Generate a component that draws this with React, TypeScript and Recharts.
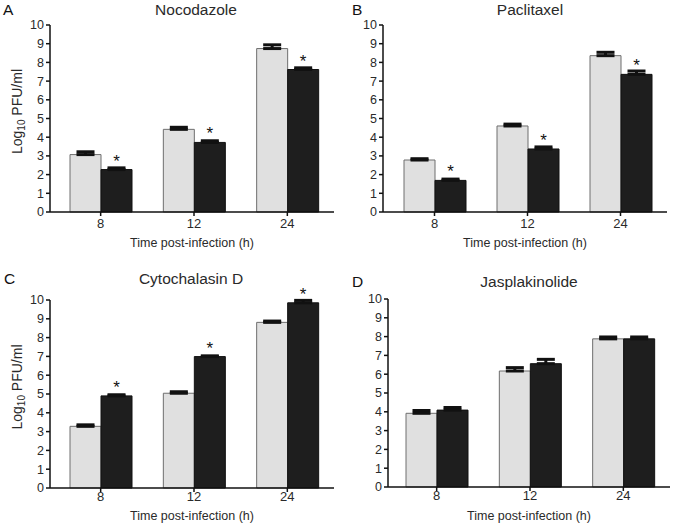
import { BarChart, Bar, XAxis, YAxis, ErrorBar, LabelList } from "recharts";

const categories = ["8", "12", "24"];
const yTicks = [0, 1, 2, 3, 4, 5, 6, 7, 8, 9, 10];

// A - Nocodazole
const nocControl = [3.07, 4.42, 8.74];
const nocControlErr = [0.15, 0.11, 0.2];
const nocTreated = [2.27, 3.72, 7.62];
const nocTreatedErr = [0.09, 0.09, 0.09];
const nocSig = ["*", "*", "*"];

// B - Paclitaxel
const pacControl = [2.78, 4.6, 8.36];
const pacControlErr = [0.07, 0.1, 0.18];
const pacTreated = [1.69, 3.37, 7.36];
const pacTreatedErr = [0.07, 0.11, 0.18];
const pacSig = ["*", "*", "*"];

// C - Cytochalasin D
const cytControl = [3.28, 5.04, 8.81];
const cytControlErr = [0.08, 0.08, 0.07];
const cytTreated = [4.9, 6.99, 9.85];
const cytTreatedErr = [0.06, 0.04, 0.13];
const cytSig = ["*", "*", "*"];

// D - Jasplakinolide
const jasControl = [3.92, 6.17, 7.88];
const jasControlErr = [0.15, 0.18, 0.1];
const jasTreated = [4.09, 6.56, 7.88];
const jasTreatedErr = [0.14, 0.23, 0.1];
const jasSig = ["", "", ""];

const FONT = "'Liberation Sans', Arial, sans-serif";
const TEXT = "#2a2a2a";

function buildRows(ctl: number[], ctlErr: number[], trt: number[], trtErr: number[], sig: string[]) {
  return categories.map((c, i) => ({
    time: c,
    control: ctl[i],
    controlErr: [0, ctlErr[i]],
    treated: trt[i],
    treatedErr: [0, trtErr[i]],
    sig: sig[i],
  }));
}

const renderStar = (props: any) => {
  const { x, y, width, value } = props;
  if (!value) return null;
  return (
    <text x={x + width / 2} y={y - 3} textAnchor="middle" fontSize={17} fill="#111" fontFamily={FONT}>
      {value}
    </text>
  );
};

const renderYLabel = (props: any) => {
  const vb = props.viewBox;
  const cx = vb.x + 7;
  const cy = vb.y + vb.height / 2 - 7;
  return (
    <text
      x={cx}
      y={cy}
      transform={`rotate(-90, ${cx}, ${cy})`}
      textAnchor="middle"
      dominantBaseline="central"
      fontSize={14}
      fill={TEXT}
      fontFamily={FONT}
    >
      Log
      <tspan fontSize={10} dy={4}>10</tspan>
      <tspan dy={-4}> PFU/ml</tspan>
    </text>
  );
};

interface PanelProps {
  letter: string;
  title: string;
  rows: any[];
  left: number;
  top: number;
  height: number;
  marginLeft: number;
  marginRight: number;
  marginTop: number;
  padLeft: number;
  xAxisHeight: number;
  tickMargin: number;
  labelOffset: number;
  titleX: number;
  titleTop: number;
  letterX: number;
  yLabel?: boolean;
}

function Panel(p: PanelProps) {
  return (
    <div style={{ position: "absolute", left: p.left, top: p.top, width: 338, height: p.height }}>
      <div
        style={{
          position: "absolute",
          left: p.letterX,
          top: p.titleTop,
          fontSize: 15.5,
          lineHeight: "15.5px",
          fontFamily: FONT,
          color: "#111",
        }}
      >
        {p.letter}
      </div>
      <div
        style={{
          position: "absolute",
          left: p.titleX - 100,
          width: 200,
          top: p.titleTop,
          textAlign: "center",
          fontSize: 15.5,
          lineHeight: "15.5px",
          fontFamily: FONT,
          color: TEXT,
        }}
      >
        {p.title}
      </div>
      <BarChart
        width={338}
        height={p.height}
        data={p.rows}
        barGap={0}
        barSize={31}
        margin={{ top: p.marginTop, right: p.marginRight, left: p.marginLeft, bottom: 2 }}
        style={{ position: "absolute", left: 0, top: 0 }}
      >
        <XAxis
          dataKey="time"
          padding={{ left: p.padLeft, right: 0 }}
          height={p.xAxisHeight}
          axisLine={{ stroke: "#111", strokeWidth: 1.5 }}
          tickLine={{ stroke: "#111", strokeWidth: 1.5 }}
          tickSize={4}
          tickMargin={p.tickMargin}
          tick={{ fontSize: 13, fill: TEXT, fontFamily: FONT }}
          label={{
            value: "Time post-infection (h)",
            position: "insideBottom",
            offset: p.labelOffset,
            fontSize: 12.5,
            fill: TEXT,
            fontFamily: FONT,
          }}
        />
        <YAxis
          domain={[0, 10]}
          ticks={yTicks}
          interval={0}
          width={40}
          axisLine={{ stroke: "#111", strokeWidth: 1.5 }}
          tickLine={{ stroke: "#111", strokeWidth: 1.5 }}
          tickSize={4}
          tickMargin={2}
          tick={{ fontSize: 12.5, fill: TEXT, fontFamily: FONT }}
          label={p.yLabel ? renderYLabel : undefined}
        />
        <Bar dataKey="control" fill="#e0e0e0" stroke="#6e6e6e" strokeWidth={1} isAnimationActive={false}>
          <ErrorBar dataKey="controlErr" width={9} strokeWidth={3} stroke="#111" direction="y" isAnimationActive={false} />
        </Bar>
        <Bar dataKey="treated" fill="#1e1e1e" stroke="#111" strokeWidth={1} isAnimationActive={false}>
          <ErrorBar dataKey="treatedErr" width={9} strokeWidth={3} stroke="#111" direction="y" isAnimationActive={false} />
          <LabelList dataKey="sig" content={renderStar} />
        </Bar>
      </BarChart>
    </div>
  );
}

export default function App() {
  return (
    <div style={{ position: "fixed", left: 0, top: 0, width: 675, height: 523, background: "#fff" }}>
      <Panel
        letter="A"
        title="Nocodazole"
        rows={buildRows(nocControl, nocControlErr, nocTreated, nocTreatedErr, nocSig)}
        left={0}
        top={0}
        height={260}
        marginLeft={10}
        marginRight={4}
        marginTop={25}
        padLeft={4}
        xAxisHeight={46}
        tickMargin={3}
        labelOffset={11}
        titleX={196}
        titleTop={2}
        letterX={3}
        yLabel
      />
      <Panel
        letter="B"
        title="Paclitaxel"
        rows={buildRows(pacControl, pacControlErr, pacTreated, pacTreatedErr, pacSig)}
        left={337}
        top={0}
        height={260}
        marginLeft={6}
        marginRight={8}
        marginTop={25}
        padLeft={5}
        xAxisHeight={46}
        tickMargin={3}
        labelOffset={11}
        titleX={193}
        titleTop={2}
        letterX={15}
      />
      <Panel
        letter="C"
        title="Cytochalasin D"
        rows={buildRows(cytControl, cytControlErr, cytTreated, cytTreatedErr, cytSig)}
        left={0}
        top={260}
        height={263}
        marginLeft={10}
        marginRight={4}
        marginTop={40}
        padLeft={4}
        xAxisHeight={33}
        tickMargin={0}
        labelOffset={1}
        titleX={191}
        titleTop={11}
        letterX={4}
        yLabel
      />
      <Panel
        letter="D"
        title="Jasplakinolide"
        rows={buildRows(jasControl, jasControlErr, jasTreated, jasTreatedErr, jasSig)}
        left={337}
        top={260}
        height={263}
        marginLeft={11}
        marginRight={5}
        marginTop={39}
        padLeft={2}
        xAxisHeight={34}
        tickMargin={0}
        labelOffset={1}
        titleX={192}
        titleTop={14}
        letterX={15}
      />
    </div>
  );
}
